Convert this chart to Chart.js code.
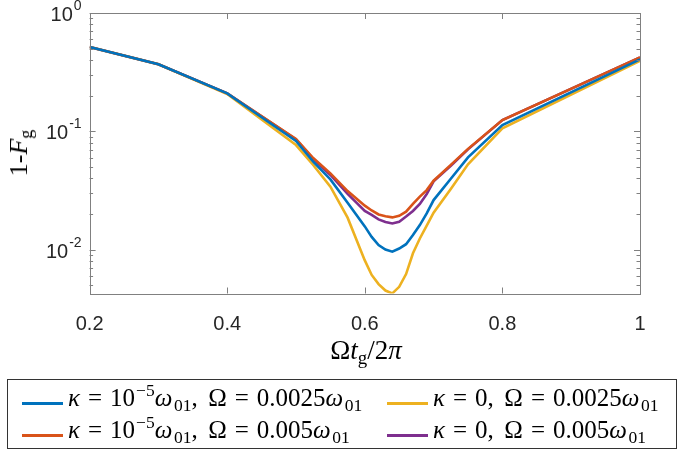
<!DOCTYPE html>
<html>
<head>
<meta charset="utf-8">
<script src="https://cdn.jsdelivr.net/npm/chart.js@4.4.1/dist/chart.umd.min.js"></script>
<style>
  body { margin: 0; background: #fff; }
  #wrap { position: relative; width: 685px; height: 451px; }
  canvas { position: absolute; left: 0; top: 0; }
  .mth { font-family: "Liberation Serif", "DejaVu Serif", serif; color: #000; position: absolute; white-space: nowrap; }
  .mth i { font-style: italic; }
  .mth sup { font-size: 0.7em; vertical-align: 0.6em; line-height: 0; margin-left: 1px; }
  .mth sub { font-size: 0.7em; vertical-align: -0.3em; line-height: 0; }
  .mth .eq { margin: 0 0.32em; }
  .mth .cm { margin-right: 0.42em; }
  .mth .w { margin-right: 1.5px; }
  #ytitle { font-size: 26px; left: 19px; top: 153px; transform: translate(-50%, -50%) rotate(-90deg); }
  #xtitle { font-size: 27px; left: 366px; top: 350px; transform: translate(-50%, -50%); }
  #legend { position: absolute; left: 7px; top: 379px; width: 670px; height: 70px; border: 1px solid #333; box-sizing: border-box; }
  .item { position: absolute; height: 24px; }
  .item .ln { position: absolute; top: 13px; width: 41px; height: 2.5px; }
  .item .mth { left: 46px; top: -5px; font-size: 25px; }
</style>
</head>
<body>
<div id="wrap">
  <canvas id="chart" width="685" height="451"></canvas>
  <div id="ytitle" class="mth">1-<i>F</i><sub>g</sub></div>
  <div id="xtitle" class="mth">Ω<i>t</i><sub>g</sub>/2<i>π</i></div>
  <div id="legend"></div>
</div>
<script>
// data
const xVals = [0.2, 0.3, 0.4, 0.5, 0.525, 0.55, 0.575, 0.6, 0.61, 0.62, 0.63, 0.64, 0.65, 0.66, 0.67, 0.68, 0.69, 0.7, 0.725, 0.75, 0.8, 1.0];

const blueVals = [0.516, 0.368, 0.209, 0.0827, 0.0553, 0.0392, 0.0249, 0.0157, 0.0128, 0.0109, 0.0100, 0.0096, 0.0102, 0.0111, 0.0133, 0.0161, 0.0202, 0.0262, 0.0397, 0.0602, 0.113, 0.406];
const redVals = [0.516, 0.368, 0.209, 0.086, 0.0594, 0.0441, 0.0312, 0.0235, 0.0214, 0.0198, 0.0191, 0.0187, 0.0193, 0.0209, 0.0243, 0.028, 0.0318, 0.0382, 0.052, 0.071, 0.1245, 0.422];
const yellowVals = [0.516, 0.368, 0.2065, 0.0765, 0.0519, 0.034, 0.0186, 0.0081, 0.0061, 0.0051, 0.0045, 0.00426, 0.00484, 0.0062, 0.0093, 0.0124, 0.0159, 0.0205, 0.0325, 0.0525, 0.106, 0.395];
const purpleVals = [0.516, 0.368, 0.209, 0.0851, 0.0582, 0.0427, 0.0296, 0.0212, 0.0196, 0.018, 0.0171, 0.0166, 0.0172, 0.019, 0.0212, 0.0243, 0.0295, 0.0377, 0.0511, 0.0703, 0.1245, 0.422];

const xTicks = [0.2, 0.4, 0.6, 0.8, 1];
const xTickLabels = ['0.2', '0.4', '0.6', '0.8', '1'];
const yExponents = [0, -1, -2];

const EQ = '<span class="eq">=</span>';
const W01 = '<i class="w">ω</i><sub>01</sub>';
const legendLabels = [
  '<i>κ</i>' + EQ + '10<sup>−5</sup>' + W01 + '<span class="cm">,</span>Ω' + EQ + '0.0025' + W01,
  '<i>κ</i>' + EQ + '10<sup>−5</sup>' + W01 + '<span class="cm">,</span>Ω' + EQ + '0.005' + W01,
  '<i>κ</i>' + EQ + '0<span class="cm">,</span>Ω' + EQ + '0.0025' + W01,
  '<i>κ</i>' + EQ + '0<span class="cm">,</span>Ω' + EQ + '0.005' + W01
];
const colors = ['#0072BD', '#D95319', '#EDB120', '#7E2F8E'];

function pts(vals) {
  return xVals.map((x, i) => ({ x: x, y: vals[i] }));
}

// axes box, ticks and tick labels, matlab style
const axesPlugin = {
  id: 'matlabAxes',
  afterDraw(chart) {
    const ctx = chart.ctx;
    const a = chart.chartArea;
    const xs = chart.scales.x;
    const ys = chart.scales.y;
    ctx.save();
    ctx.strokeStyle = '#808080';
    ctx.lineWidth = 1;
    ctx.strokeRect(Math.round(a.left) + 0.5, Math.round(a.top) + 0.5, Math.round(a.right - a.left), Math.round(a.bottom - a.top));

    ctx.beginPath();
    xTicks.forEach(v => {
      const px = Math.round(xs.getPixelForValue(v)) + 0.5;
      ctx.moveTo(px, a.bottom); ctx.lineTo(px, a.bottom - 6);
      ctx.moveTo(px, a.top); ctx.lineTo(px, a.top + 6);
    });
    // log ticks
    for (let e = -3; e <= 0; e++) {
      for (let m = 1; m <= 9; m++) {
        const v = m * Math.pow(10, e);
        if (v < ys.min || v > ys.max) continue;
        const py = Math.round(ys.getPixelForValue(v)) + 0.5;
        const len = m === 1 ? 6 : 3.5;
        ctx.moveTo(a.left, py); ctx.lineTo(a.left + len, py);
        ctx.moveTo(a.right, py); ctx.lineTo(a.right - len, py);
      }
    }
    ctx.stroke();

    ctx.fillStyle = '#262626';
    ctx.font = '20px "Liberation Sans", Arial, sans-serif';
    ctx.textAlign = 'center';
    ctx.textBaseline = 'top';
    xTicks.forEach((v, i) => {
      ctx.fillText(xTickLabels[i], xs.getPixelForValue(v), a.bottom + 21);
    });

    yExponents.forEach(e => {
      const py = ys.getPixelForValue(Math.pow(10, e));
      const sup = String(e);
      ctx.font = '14px "Liberation Sans", Arial, sans-serif';
      const sw = ctx.measureText(sup).width;
      ctx.textAlign = 'right';
      ctx.textBaseline = 'alphabetic';
      ctx.fillText(sup, a.left - 8, py - 3);
      ctx.font = '20px "Liberation Sans", Arial, sans-serif';
      ctx.fillText('10', a.left - 9 - sw, py + 8);
    });
    ctx.restore();
  }
};

new Chart(document.getElementById('chart'), {
  type: 'line',
  data: {
    datasets: [
      { data: pts(blueVals), borderColor: colors[0] },
      { data: pts(redVals), borderColor: colors[1] },
      { data: pts(yellowVals), borderColor: colors[2] },
      { data: pts(purpleVals), borderColor: colors[3] }
    ]
  },
  options: {
    responsive: false,
    animation: false,
    layout: { padding: { left: 89.6, right: 45, top: 13, bottom: 157.5 } },
    elements: {
      line: { borderWidth: 2.6, tension: 0, fill: false },
      point: { radius: 0 }
    },
    scales: {
      x: { type: 'linear', min: 0.2, max: 1, display: false },
      y: { type: 'logarithmic', min: 0.00425, max: 1, display: false }
    },
    plugins: { legend: { display: false }, tooltip: { enabled: false } }
  },
  plugins: [axesPlugin]
});

// legend, two columns
const legend = document.getElementById('legend');
const slots = [
  { left: 14, top: 9 }, { left: 14, top: 41 },
  { left: 379, top: 9 }, { left: 379, top: 41 }
];
legendLabels.forEach((lab, i) => {
  const it = document.createElement('div');
  it.className = 'item';
  it.style.left = slots[i].left + 'px';
  it.style.top = slots[i].top + 'px';
  it.innerHTML = '<div class="ln" style="background:' + colors[i] + '"></div><div class="mth">' + lab + '</div>';
  legend.appendChild(it);
});
</script>
</body>
</html>
